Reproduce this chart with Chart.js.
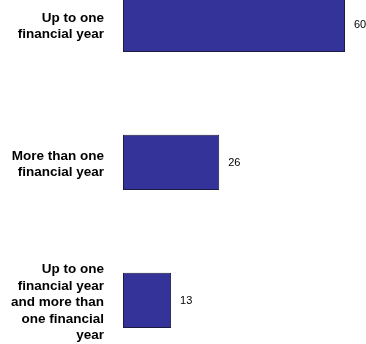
<!DOCTYPE html>
<html>
<head>
<meta charset="utf-8">
<script src="https://cdn.jsdelivr.net/npm/chart.js@4"></script>
<style>
  html, body { margin: 0; padding: 0; background: #fff; overflow: hidden; }
  body { width: 366px; height: 344px; position: relative; }
  /* the plot runs past the top and bottom edges of the page */
  #chart { position: absolute; left: 0; top: -105px; width: 366px; height: 510px; }
</style>
</head>
<body>
<canvas id="chart" width="366" height="510"></canvas>
<script>
// Duration categories (multi-line labels) and counts
const categories = [
  ['Up to one', 'financial year'],
  ['More than one', 'financial year'],
  ['Up to one', 'financial year', 'and more than', 'one financial', 'year']
];
const counts = [60, 26, 13];

// Writes each bar's value just past its end
const valueLabels = {
  id: 'valueLabels',
  afterDatasetsDraw(chart) {
    const ctx = chart.ctx;
    const meta = chart.getDatasetMeta(0);
    ctx.save();
    ctx.font = '11px "Liberation Sans", Arial, sans-serif';
    ctx.fillStyle = '#000';
    ctx.textAlign = 'left';
    ctx.textBaseline = 'middle';
    meta.data.forEach((bar, i) => {
      ctx.fillText(String(counts[i]), bar.x + 9, bar.y + 1);
    });
    ctx.restore();
  }
};

new Chart(document.getElementById('chart'), {
  type: 'bar',
  data: {
    labels: categories,
    datasets: [{
      data: counts,
      backgroundColor: '#333399',
      borderColor: '#1c1c40',
      borderWidth: 1,
      borderSkipped: false,
      barPercentage: 0.4,
      categoryPercentage: 1
    }]
  },
  options: {
    indexAxis: 'y',
    responsive: false,
    devicePixelRatio: 1,
    animation: false,
    layout: { padding: { left: 0, right: 21, top: 0, bottom: 0 } },
    plugins: {
      legend: { display: false },
      tooltip: { enabled: false }
    },
    scales: {
      x: {
        display: false,
        min: 0,
        max: 60
      },
      y: {
        grid: { display: false, drawTicks: false },
        border: { display: false },
        ticks: {
          padding: 19,
          labelOffset: 2,
          color: '#000',
          font: { family: '"Liberation Sans", Arial, sans-serif', size: 13.5, weight: 'bold', lineHeight: '16.5px' }
        },
        afterFit(scale) { scale.width = 123; }
      }
    }
  },
  plugins: [valueLabels]
});
</script>
</body>
</html>
